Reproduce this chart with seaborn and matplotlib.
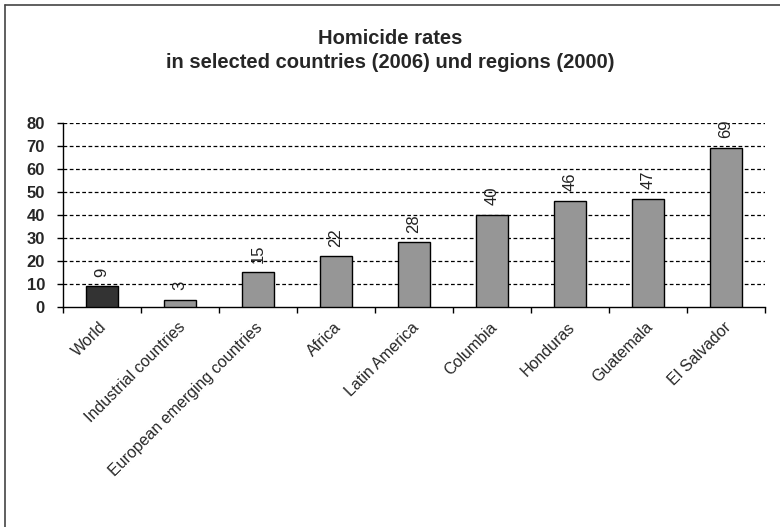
import matplotlib
matplotlib.use("Agg")
import matplotlib.pyplot as plt
import matplotlib.transforms as mtransforms
import seaborn as sns
from matplotlib.lines import Line2D

categories = ["World", "Industrial countries", "European emerging countries", "Africa",
              "Latin America", "Columbia", "Honduras", "Guatemala", "El Salvador"]
values = [9, 3, 15, 22, 28, 40, 46, 47, 69]
bar_colors = ["#333333"] + ["#969696"] * 8
yticks = [0, 10, 20, 30, 40, 50, 60, 70, 80]
title_line1 = "Homicide rates"
title_line2 = "in selected countries (2006) und regions (2000)"

sns.set_theme(style="white")
plt.rcParams['font.family'] = ['Liberation Sans', 'DejaVu Sans']

fig = plt.figure(figsize=(7.8, 5.27), dpi=100)
ax = fig.add_axes([63/780, 1 - 307/527, (765-63)/780, (307-122.7)/527])

sns.barplot(x=categories, y=values, hue=categories, palette=bar_colors, width=0.4,
            edgecolor="black", linewidth=1.0, legend=False, ax=ax, zorder=3, saturation=1)

ax.set_xlim(-0.5, len(categories) - 0.5)
ax.set_ylim(0, 80)
ax.set_yticks(yticks)
ax.set_yticklabels([str(t) for t in yticks], fontsize=12, fontweight="bold")
for t in yticks[1:]:
    ax.axhline(t, color="black", linewidth=0.9, linestyle=(0, (3, 2)), zorder=1)

ax.set_xticks(range(len(categories)))
ax.set_xticklabels(categories, rotation=45, ha="right", rotation_mode="anchor", fontsize=11.5)
ax.tick_params(axis="x", which="major", length=0, pad=9)
shift = mtransforms.ScaledTranslation(-2/72, 0, fig.dpi_scale_trans)
for lab in ax.get_xticklabels():
    lab.set_transform(lab.get_transform() + shift)
ax.set_xticks([i - 0.5 for i in range(len(categories) + 1)], minor=True)
ax.tick_params(axis="x", which="minor", length=4, width=1, color="black", direction="out", bottom=True)
ax.tick_params(axis="y", length=4, width=1, color="black", direction="out", left=True, pad=9)

ax.set_xlabel("")
ax.set_ylabel("")
for s in ["top", "right"]:
    ax.spines[s].set_visible(False)
for s in ["left", "bottom"]:
    ax.spines[s].set_color("black")
    ax.spines[s].set_linewidth(1)

for i, v in enumerate(values):
    ax.annotate(str(v), (i, v), xytext=(0, 7), textcoords="offset points",
                ha="center", va="bottom", rotation=90, fontsize=12, color="#222222")

fig.text(0.5, 1 - 38/527, title_line1, ha="center", va="center", fontsize=14.5, fontweight="bold")
fig.text(0.5, 1 - 62/527, title_line2, ha="center", va="center", fontsize=14.5, fontweight="bold")

fig.add_artist(Line2D([5/780, 1.0], [1 - 5/527, 1 - 5/527], transform=fig.transFigure,
                      color="#444444", linewidth=1.2))
fig.add_artist(Line2D([5/780, 5/780], [0, 1 - 5/527], transform=fig.transFigure,
                      color="#444444", linewidth=1.2))

fig.savefig("out.png", dpi=100)
